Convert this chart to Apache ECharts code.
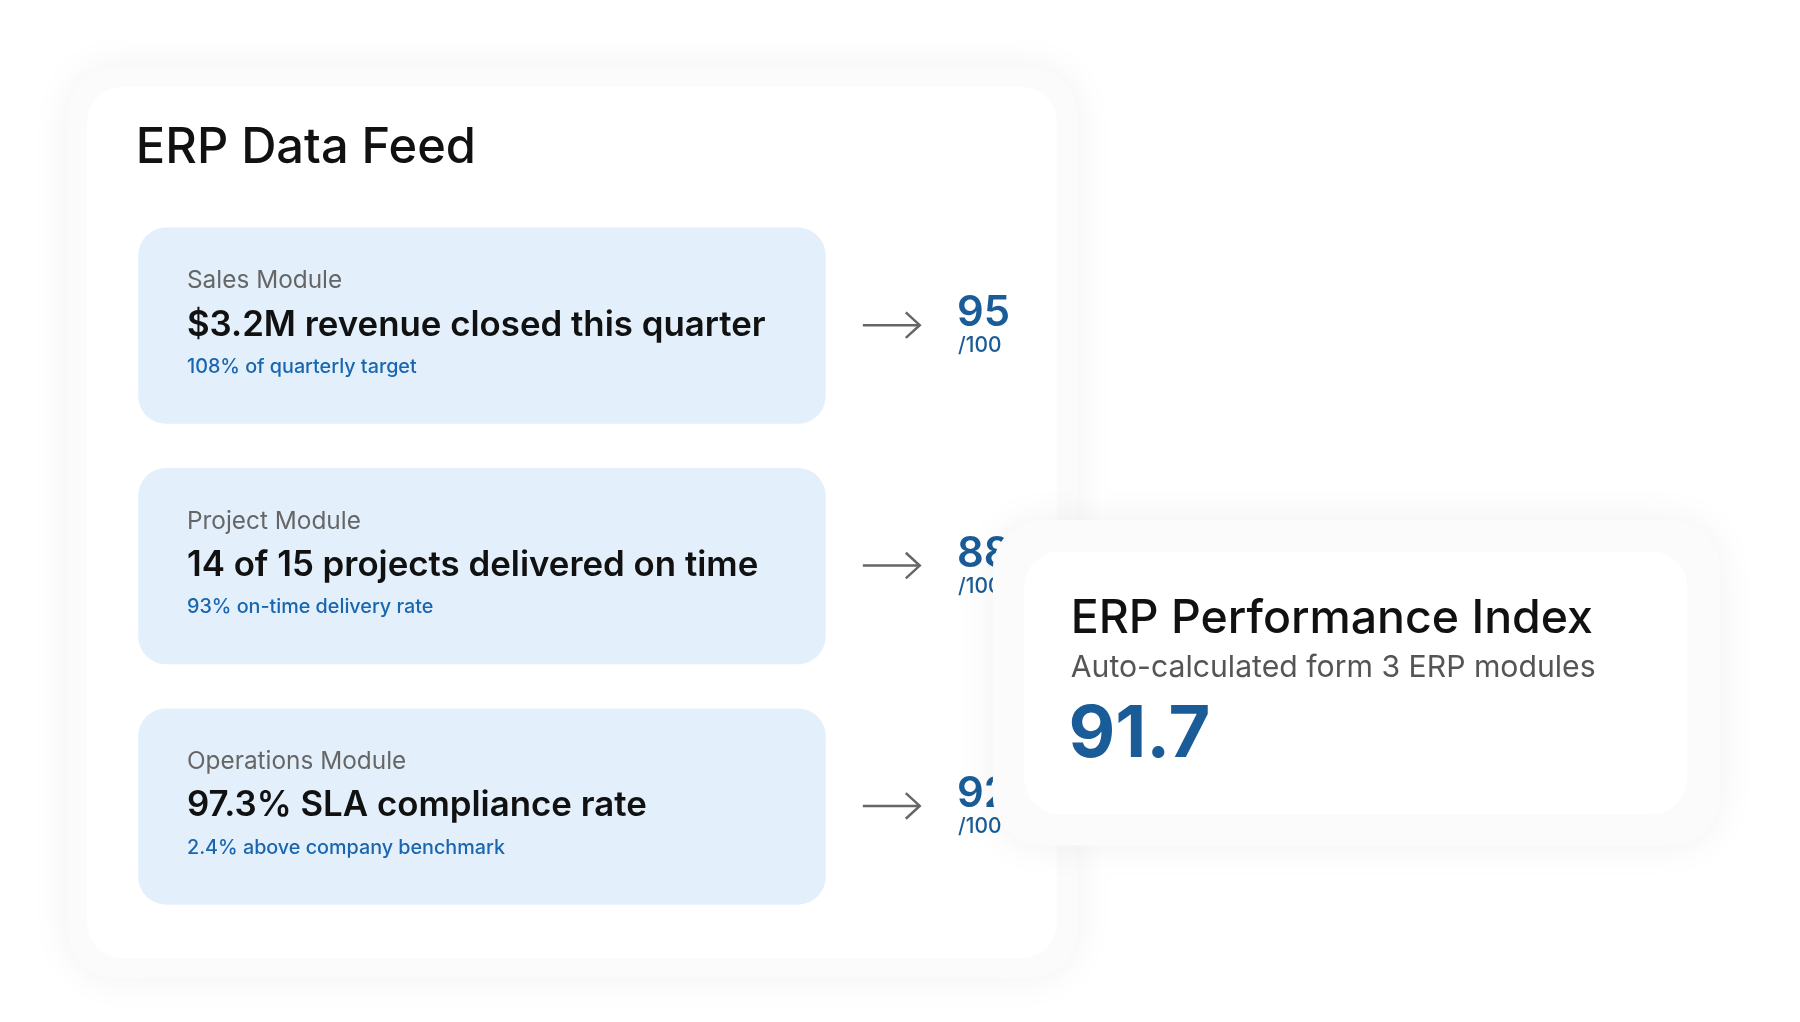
<!DOCTYPE html>
<html><head><meta charset="utf-8">
<script src="https://cdn.jsdelivr.net/npm/echarts@6/dist/echarts.min.js"></script>
<style>html,body{margin:0;padding:0;background:#fff}#c{width:1800px;height:1022px}</style>
</head><body><div id="c"></div>
<script>
const modules = ['Sales Module','Project Module','Operations Module'];
const headlines = ['$3.2M revenue closed this quarter','14 of 15 projects delivered on time','97.3% SLA compliance rate'];
const subtexts = ['108% of quarterly target','93% on-time delivery rate','2.4% above company benchmark'];
const scores = [95, 88, 92];
const scoreMax = '/100';
const title = 'ERP Data Feed';
const indexTitle = 'ERP Performance Index';
const indexSub = 'Auto-calculated form 3 ERP modules';
const indexValue = '91.7';

const s = 1800/1550;
const F = 'Inter, "Noto Sans", sans-serif';
const blue = '#1a5c97';
const els = [];
function rect(x,y,w,h,r,fill,shadow){
  els.push({type:'rect',shape:{x:x*s,y:y*s,width:w*s,height:h*s,r:r*s},
    style:Object.assign({fill:fill},shadow||{})});
}
function text(x,y,t,size,color,weight,align){
  els.push({type:'text',x:x*s,y:y*s,style:{text:t,font:(weight||400)+' '+(size*s)+'px '+F,fill:color,textVerticalAlign:'middle',textAlign:align||'left'}});
}
// left card
rect(58,58,870,784,42,'#fbfbfb',{shadowBlur:40,shadowColor:'rgba(0,0,0,0.06)'});
rect(75,75,835,750,30,'#ffffff');
text(117,128,title,42,'#111',500);
const top0=196, step=207;
modules.forEach((m,i)=>{
  const y=top0+i*step;
  rect(119,y,592,169,24,'#e3f0fc');
  text(161,y+46,m,21,'#666',400);
  text(161,y+84,headlines[i],30,'#111',600);
  text(161,y+120,subtexts[i],17,'#1a66ae',500);
  // arrow
  const ay=(y+84)*s;
  els.push({type:'polyline',shape:{points:[[743*s,ay],[792*s,ay]]},style:{stroke:'#666',lineWidth:2.5}});
  els.push({type:'polyline',shape:{points:[[780*s,ay-11*s],[792*s,ay],[780*s,ay+11*s]]},style:{stroke:'#666',lineWidth:2.5,fill:null}});
  text(824,y+74,String(scores[i]),36,blue,600);
  text(825,y+102,scoreMax,18,blue,500);
});
// right card
rect(855,448,626,280,42,'#fbfbfb',{shadowBlur:40,shadowColor:'rgba(0,0,0,0.06)'});
rect(882,475,571,226,30,'#ffffff');
text(922,533,indexTitle,40,'#111',500);
text(922,575,indexSub,26,'#555',400);
text(920,633,indexValue,62,blue,700);

const chart = echarts.init(document.getElementById('c'));
chart.setOption({animation:false,graphic:els});
</script></body></html>
